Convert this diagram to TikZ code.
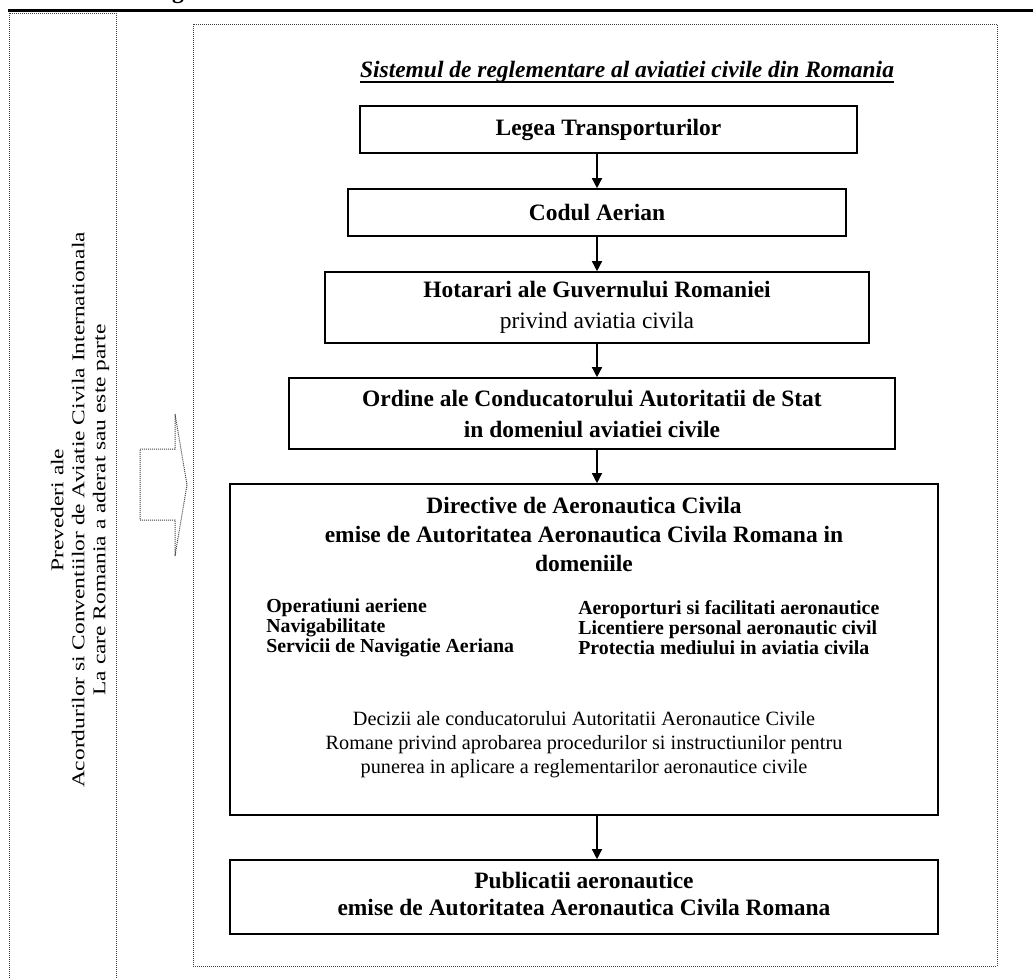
\documentclass[tikz,border=0pt]{standalone}
\usepackage{fontspec}
\setmainfont{Liberation Serif}
\usetikzlibrary{arrows.meta}

\begin{document}
\begin{tikzpicture}[x=0.75pt,y=-0.75pt,
  stepbox/.style={draw=black, line width=1.2pt, fill=white, inner sep=0pt, align=center,
                  font=\bfseries\fontsize{17.6}{23.25}\selectfont},
  frame/.style={draw=black!75, line width=0.75pt, dash pattern=on 0.75pt off 0.75pt},
  flow/.style={-{Triangle[length=7.5pt,width=7.5pt]}, line width=1pt},
  plain/.style={inner sep=0pt, align=center}]
\useasboundingbox (0,0) rectangle (1033,979);

% heading fragment and rule at the top of the page
\node[plain, anchor=base, font=\bfseries\fontsize{17.6}{20}\selectfont] (cut) at (178,-2) {g};
\draw[line width=2pt] (8,10.5) -- (1033,10.5);

% frames
\draw[frame] (9,13) rectangle (116,990);
\draw[frame] (193,24) rectangle (997,966);

% left column: international provisions
\node[plain, rotate=90, font=\fontsize{13.5}{15.75}\selectfont] (prov) at (80,510)
  {\scalebox{1.3}[1]{Prevederi ale}\\
   \scalebox{1.3}[1]{Acordurilor si Conventiilor de Aviatie Civila Internationala}\\
   \scalebox{1.3}[1]{La care Romania a aderat sau este parte}};

% dotted block arrow
\draw[frame] (140,449) -- (175,449) -- (175,414) -- (187,485) -- (175,556)
  -- (175,520) -- (140,520) -- cycle;

% title
\node[plain, anchor=base, font=\bfseries\itshape\fontsize{17.6}{20}\selectfont] (title) at (627,77)
  {Sistemul de reglementare al aviatiei civile din Romania};
\draw[line width=1.6pt] ([yshift=-3.5pt]title.base west) -- ([yshift=-3.5pt]title.base east);

% hierarchy of regulations
\node[stepbox, minimum width=372.75pt, minimum height=35.25pt] (lege) at (608.5,129.5)
  {Legea Transporturilor};
\node[stepbox, minimum width=373.5pt, minimum height=35.25pt] (cod) at (597,212.5)
  {Codul Aerian};
\node[stepbox, minimum width=408pt, minimum height=53.25pt] (hg) at (597,307.5)
  {Hotarari ale Guvernului Romaniei\\\mdseries privind aviatia civila};
\node[stepbox, minimum width=454.5pt, minimum height=53.25pt] (ord) at (592,413.5)
  {Ordine ale Conducatorului Autoritatii de Stat\\in domeniul aviatiei civile};
\node[stepbox, minimum width=531pt, minimum height=248.25pt] (dir) at (584,649.5) {};
\node[stepbox, minimum width=531pt, minimum height=55.5pt] (pub) at (584,897) {};
\node[plain, font=\bfseries\fontsize{17.6}{20.25}\selectfont] (pubtext) at (584,894)
  {Publicatii aeronautice\\emise de Autoritatea Aeronautica Civila Romana};

% contents of the directives box
\node[plain, font=\bfseries\fontsize{17.6}{21.75}\selectfont] (dirhead) at (584,534)
  {Directive de Aeronautica Civila\\emise de Autoritatea Aeronautica Civila Romana in\\domeniile};
\node[plain, anchor=west, align=left, font=\bfseries\fontsize{14.9}{15}\selectfont] (domA) at (266,628)
  {Operatiuni aeriene\\Navigabilitate\\Servicii de Navigatie Aeriana};
\node[plain, anchor=west, align=left, font=\bfseries\fontsize{14.9}{15}\selectfont] (domB) at (578,628)
  {Aeroporturi si facilitati aeronautice\\Licentiere personal aeronautic civil\\Protectia mediului in aviatia civila};
\node[plain, font=\fontsize{15.2}{18}\selectfont] (dec) at (584,745)
  {Decizii ale conducatorului Autoritatii Aeronautice Civile\\
   Romane privind aprobarea procedurilor si instructiunilor pentru\\
   punerea in aplicare a reglementarilor aeronautice civile};

% connectors
\coordinate (ax) at (597,0);
\draw[flow] (lege.south -| ax) -- (cod.north -| ax);
\draw[flow] (cod.south -| ax) -- (hg.north -| ax);
\draw[flow] (hg.south -| ax) -- (ord.north -| ax);
\draw[flow] (ord.south -| ax) -- (dir.north -| ax);
\draw[flow] (dir.south -| ax) -- (pub.north -| ax);
\end{tikzpicture}
\end{document}
